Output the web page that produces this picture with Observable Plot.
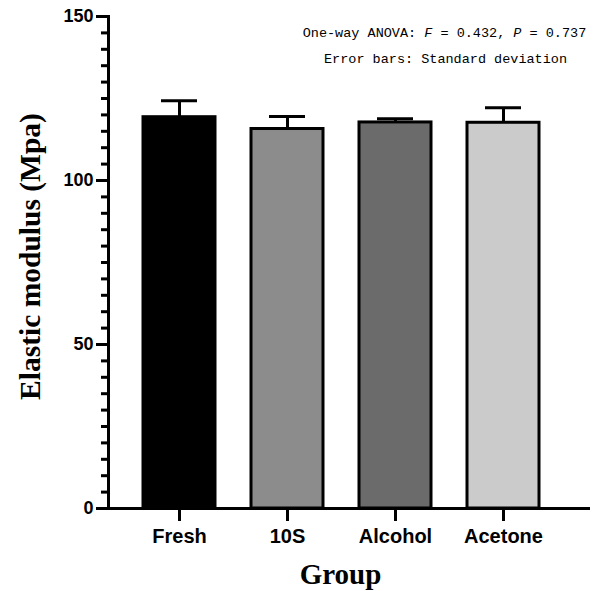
<!DOCTYPE html>
<html>
<head>
<meta charset="utf-8">
<script src="https://cdn.jsdelivr.net/npm/d3@7"></script>
<script src="https://cdn.jsdelivr.net/npm/@observablehq/plot@0.6"></script>
<style>
  html, body { margin: 0; padding: 0; background: #fff; }
</style>
</head>
<body>
<div id="chart"></div>
<script>
// Elastic modulus by treatment group: mean ± SD (error bar drawn upward only)
const groups = ["Fresh", "10S", "Alcohol", "Acetone"];
const means = [119.3, 115.7, 117.7, 117.6];
const sds = [5.0, 3.8, 1.1, 4.6];
const palette = ["#000000", "#8c8c8c", "#6b6b6b", "#cbcbcb"];
const yMajorTicks = [0, 50, 100, 150];
const yMinorTicks = d3.range(0, 151, 5);
const annotationLine1 = "One-way ANOVA: F = 0.432, P = 0.737";
const annotationLine2 = "Error bars: Standard deviation";
const yLabel = "Elastic modulus (Mpa)";
const xLabel = "Group";

const data = groups.map((g, i) => ({group: g, mean: means[i], sd: sds[i], top: means[i] + sds[i]}));

const W = 593, H = 591;
const margin = {left: 108, right: 3, top: 16, bottom: 83};
const frameW = W - margin.left - margin.right;
const frameH = H - margin.top - margin.bottom;

// short outward tick marks hugging the frame edges
const leftTicks = (values, len) =>
  Plot.tickY(values, {y: d => d, insetRight: frameW - len, dx: -len, stroke: "#000", strokeWidth: 3});
const bottomTicks = (values, len) =>
  Plot.tickX(values, {x: d => d, insetTop: frameH - len, dy: len, stroke: "#000", strokeWidth: 3});

const chart = Plot.plot({
  width: W,
  height: H,
  marginLeft: margin.left,
  marginRight: margin.right,
  marginTop: margin.top,
  marginBottom: margin.bottom,
  style: {fontFamily: "'Liberation Sans', Arial, sans-serif", background: "#fff", color: "#000"},
  x: {domain: groups, insetLeft: 16, insetRight: 33, paddingInner: 0.336, paddingOuter: 0.168, align: 0.5, label: null},
  y: {domain: [0, 150], label: null},
  color: {domain: groups, range: palette},
  marks: [
    // error bars (upper half only) with caps
    Plot.ruleX(data, {x: "group", y1: "mean", y2: "top", stroke: "#000", strokeWidth: 3}),
    Plot.tickY(data, {x: "group", y: "top", stroke: "#000", strokeWidth: 3, insetLeft: 18, insetRight: 18}),
    // bars
    Plot.barY(data, {x: "group", y: "mean", fill: "group", stroke: "#000", strokeWidth: 3}),
    // y axis: minor and major ticks, labels
    leftTicks(yMinorTicks, 7),
    leftTicks(yMajorTicks, 12),
    Plot.axisY(yMajorTicks, {tickSize: 0, tickPadding: 15, fontSize: 18, fontWeight: "bold", label: null, tickFormat: d3.format("d")}),
    // x axis
    bottomTicks(groups, 13),
    Plot.axisX({tickSize: 0, tickPadding: 20, fontSize: 20, fontWeight: "bold", label: null}),
    // axis lines
    Plot.frame({anchor: "left", strokeWidth: 3, stroke: "#000"}),
    Plot.ruleY([0], {strokeWidth: 3, stroke: "#000"}),
    // axis titles
    Plot.text([yLabel], {
      frameAnchor: "left", text: d => d, rotate: -90, textAnchor: "middle", lineAnchor: "middle", dx: -78, dy: -6,
      fontFamily: "'Liberation Serif', 'Times New Roman', serif", fontWeight: "bold", fontSize: 29.5
    }),
    Plot.text([xLabel], {
      frameAnchor: "bottom", text: d => d, dx: -9, dy: 66, lineAnchor: "middle",
      fontFamily: "'Liberation Serif', 'Times New Roman', serif", fontWeight: "bold", fontSize: 29
    }),
    // statistics note
    Plot.text([annotationLine1], {
      frameAnchor: "top", text: d => d, dx: 95, dy: 10.5, lineAnchor: "top",
      fontFamily: "'Liberation Mono', 'DejaVu Sans Mono', monospace", fontSize: 13.5
    }),
    Plot.text([annotationLine2], {
      frameAnchor: "top", text: d => d, dx: 96, dy: 36.5, lineAnchor: "top",
      fontFamily: "'Liberation Mono', 'DejaVu Sans Mono', monospace", fontSize: 13.5
    })
  ]
});

const svg = d3.select(chart);

// italicize the test statistic symbols F and P
svg.selectAll("text").each(function() {
  const node = d3.select(this);
  if (node.text() === annotationLine1) {
    const parts = [["One-way ANOVA: ", false], ["F", true], [" = 0.432, ", false], ["P", true], [" = 0.737", false]];
    node.text(null);
    for (const [s, italic] of parts) {
      node.append("tspan").attr("font-style", italic ? "italic" : null).attr("xml:space", "preserve").text(s);
    }
  }
});

document.getElementById("chart").appendChild(chart);
</script>
</body>
</html>
